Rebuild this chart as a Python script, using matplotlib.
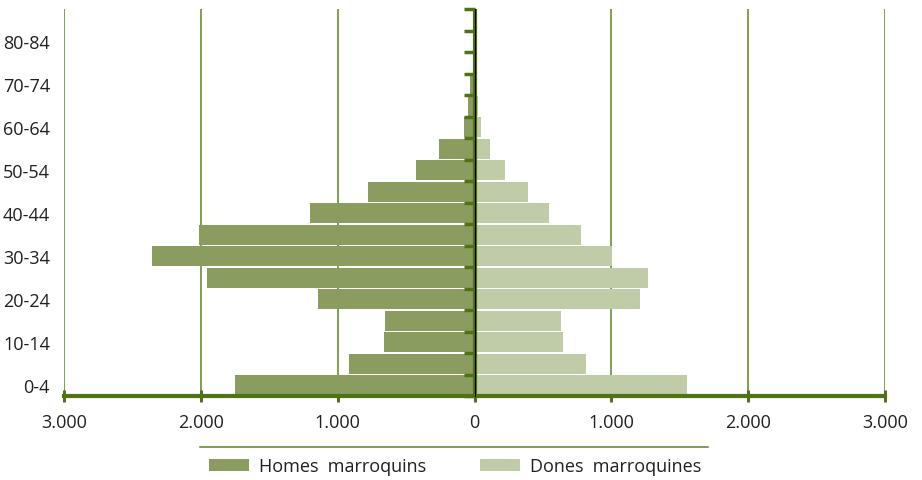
import matplotlib
matplotlib.use("Agg")
import matplotlib.pyplot as plt
import numpy as np
from matplotlib.patches import Patch
from matplotlib.lines import Line2D

plt.rcParams['font.family'] = ['Open Sans', 'DejaVu Sans']

age_groups = ["0-4", "5-9", "10-14", "15-19", "20-24", "25-29", "30-34", "35-39",
              "40-44", "45-49", "50-54", "55-59", "60-64", "65-69", "70-74",
              "75-79", "80-84", "85+"]
men = [1750, 920, 662, 655, 1146, 1956, 2358, 2010, 1202, 776, 428, 261, 80, 49, 30, 8, 4, 2]
women = [1552, 817, 645, 632, 1209, 1267, 1005, 778, 547, 394, 224, 112, 46, 26, 19, 6, 3, 2]
xticks = [-3000, -2000, -1000, 0, 1000, 2000, 3000]
xtick_labels = ["3.000", "2.000", "1.000", "0", "1.000", "2.000", "3.000"]
series_labels = ["Homes  marroquins", "Dones  marroquines"]

c_men = "#8A9C5F"
c_women = "#C0CBA7"
c_axis = "#4F7215"
c_grid = "#5E8424"
c_text = "#231F20"

fig = plt.figure(figsize=(9.22, 4.81), dpi=100)
ax = fig.add_axes([64/922, 1-397/481, (885-64)/922, (397-10)/481])

y = np.arange(len(age_groups))
ax.barh(y, -np.array(men), height=0.93, color=c_men, zorder=2)
ax.barh(y, women, height=0.93, color=c_women, zorder=2)

ax.set_xlim(-3000, 3000)
ax.set_ylim(-0.5, len(age_groups) - 0.5)

ax.set_xticks(xticks)
ax.set_xticklabels(xtick_labels, fontsize=13, color=c_text)
ax.xaxis.grid(True, color=c_grid, linewidth=1.1, zorder=0)
ax.set_axisbelow(True)

ax.set_yticks(y[::2])
ax.set_yticklabels(age_groups[::2], fontsize=13, color=c_text)
ax.tick_params(axis='y', length=0, pad=10)
ax.tick_params(axis='x', length=8, width=2.2, direction='inout', color=c_axis, pad=8)

for s in ['top', 'right', 'left']:
    ax.spines[s].set_visible(False)
ax.spines['bottom'].set_color(c_axis)
ax.spines['bottom'].set_linewidth(3)
ax.spines['bottom'].set_zorder(5)

# zero axis line
ax.axvline(0, color=c_axis, linewidth=3, zorder=4)

# category boundary ticks on zero axis
sec = ax.secondary_yaxis(0.5)
sec.spines['left'].set_visible(False)
sec.set_yticks(np.arange(len(age_groups) + 1) - 0.5)
sec.set_yticklabels([])
sec.tick_params(axis='y', length=8, width=2.5, color=c_axis, direction='out', left=True, right=False)
sec.set_zorder(6)

handles = [Patch(facecolor=c_men, edgecolor='none'), Patch(facecolor=c_women, edgecolor='none')]
fig.legend(handles, series_labels, loc='center', bbox_to_anchor=(455/922, 1-467/481),
           ncol=2, frameon=False, fontsize=13, handlelength=2.2, handleheight=0.65,
           columnspacing=3.0, handletextpad=0.55, labelcolor=c_text)
fig.add_artist(Line2D([200/922, 708/922], [1-448/481, 1-448/481], transform=fig.transFigure,
                      color=c_grid, linewidth=1.1))

fig.savefig("out.png", dpi=100)
